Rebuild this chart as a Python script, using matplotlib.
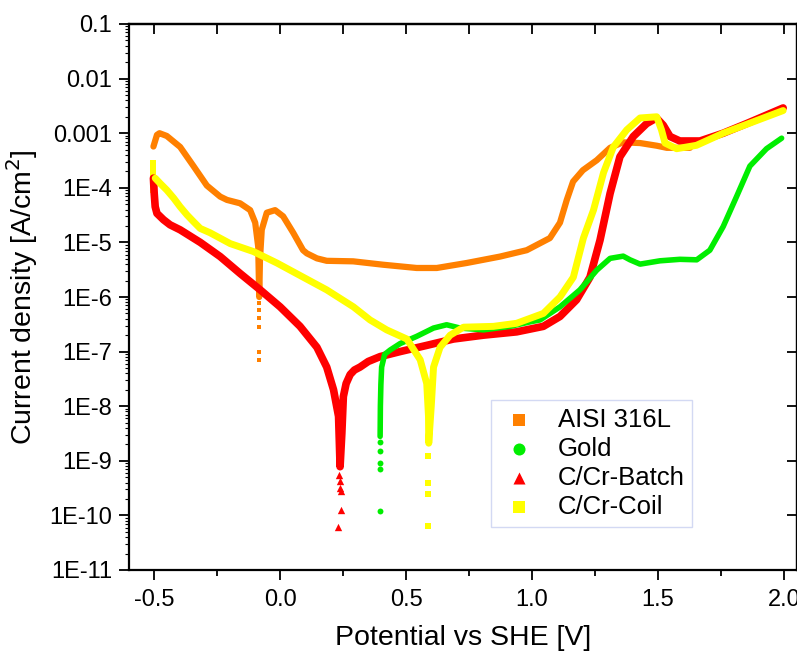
import matplotlib
matplotlib.use("Agg")
import matplotlib.pyplot as plt
from matplotlib.ticker import FixedLocator, NullFormatter, LogLocator, MultipleLocator

plt.rcParams['font.family'] = ['Liberation Sans', 'DejaVu Sans']

# AISI 316L (orange)
ss_v = [-0.503, -0.489, -0.479, -0.450, -0.397, -0.344, -0.291, -0.238, -0.211, -0.159,
        -0.119, -0.099, -0.087, -0.083, -0.080, -0.073, -0.053, -0.020, 0.012, 0.052,
        0.091, 0.106, 0.146, 0.185, 0.290, 0.409, 0.542, 0.622, 0.741, 0.873,
        0.979, 1.071, 1.111, 1.138, 1.163, 1.202, 1.257, 1.310, 1.361, 1.429,
        1.495, 1.535, 1.627]
ss_j = [5.7e-4, 9.3e-4, 1.0e-3, 8.9e-4, 5.6e-4, 2.5e-4, 1.1e-4, 6.9e-5, 6.0e-5, 5.2e-5,
        3.9e-5, 2.3e-5, 8.3e-6, 1.0e-6, 5.0e-6, 1.7e-5, 3.5e-5, 3.9e-5, 3.0e-5, 1.5e-5,
        7.2e-6, 6.3e-6, 5.1e-6, 4.6e-6, 4.5e-6, 3.9e-6, 3.4e-6, 3.4e-6, 4.2e-6, 5.5e-6,
        7.2e-6, 1.2e-5, 2.3e-5, 6.0e-5, 1.3e-4, 2.1e-4, 3.2e-4, 5.4e-4, 6.8e-4, 6.6e-4,
        5.9e-4, 5.4e-4, 5.4e-4]
ss_tail_v = [-0.083, -0.083, -0.083, -0.083, -0.083, -0.083]
ss_tail_j = [7.8e-7, 5.8e-7, 4.1e-7, 2.8e-7, 1.0e-7, 7.1e-8]

# Gold (green)
au_v = [0.397, 0.398, 0.400, 0.403, 0.415, 0.437, 0.476, 0.542, 0.609, 0.661,
        0.714, 0.807, 0.913, 0.992, 1.032, 1.111, 1.190, 1.257, 1.310, 1.362,
        1.389, 1.429, 1.508, 1.587, 1.654, 1.706, 1.759, 1.812, 1.865, 1.931, 1.991]
au_j = [2.8e-9, 1.0e-8, 2.5e-8, 5.2e-8, 8.9e-8, 1.07e-7, 1.4e-7, 1.9e-7, 2.7e-7, 3.1e-7,
        2.7e-7, 2.5e-7, 2.9e-7, 3.5e-7, 3.8e-7, 6.6e-7, 1.35e-6, 3.1e-6, 5.1e-6, 5.6e-6,
        4.8e-6, 4.0e-6, 4.6e-6, 4.9e-6, 4.8e-6, 7.2e-6, 1.95e-5, 6.9e-5, 2.5e-4, 5.2e-4, 8.1e-4]
au_tail_v = [0.397, 0.397, 0.397, 0.397, 0.397]
au_tail_j = [2.2e-9, 1.5e-9, 9.0e-10, 7.2e-10, 1.2e-10]

# C/Cr-Batch (red)
cb_v = [-0.503, -0.500, -0.496, -0.489, -0.463, -0.437, -0.397, -0.317, -0.238, -0.159,
        -0.079, 0.0, 0.079, 0.146, 0.185, 0.212, 0.232, 0.238, 0.245, 0.251,
        0.262, 0.278, 0.295, 0.317, 0.350, 0.397, 0.476, 0.582, 0.688, 0.807,
        0.939, 1.045, 1.111, 1.177, 1.230, 1.270, 1.310, 1.349, 1.402, 1.455,
        1.494, 1.521, 1.548, 1.587, 1.667, 1.759, 1.852, 1.997]
cb_j = [1.5e-4, 8.0e-5, 4.5e-5, 3.4e-5, 2.6e-5, 2.1e-5, 1.7e-5, 1.0e-5, 5.5e-6, 2.7e-6,
        1.35e-6, 6.6e-7, 2.9e-7, 1.2e-7, 5.2e-8, 2.0e-8, 6.5e-9, 7.8e-10, 3.2e-9, 1.5e-8,
        2.6e-8, 3.8e-8, 4.6e-8, 5.2e-8, 6.6e-8, 8.1e-8, 1.0e-7, 1.3e-7, 1.7e-7, 2.0e-7,
        2.3e-7, 2.9e-7, 4.4e-7, 8.9e-7, 2.3e-6, 1.1e-5, 7.9e-5, 3.7e-4, 8.7e-4, 1.5e-3,
        1.9e-3, 1.4e-3, 8.7e-4, 7.2e-4, 7.2e-4, 1.0e-3, 1.5e-3, 2.9e-3]
cb_tail_v = [0.233, 0.236, 0.236, 0.240, 0.243, 0.229]
cb_tail_j = [5.5e-10, 4.2e-10, 3.2e-10, 2.8e-10, 1.26e-10, 6.2e-11]

# C/Cr-Coil (yellow)
cc_v = [-0.496, -0.476, -0.450, -0.423, -0.397, -0.370, -0.344, -0.317, -0.278, -0.198,
        -0.106, -0.013, 0.092, 0.185, 0.291, 0.357, 0.423, 0.503, 0.556, 0.582,
        0.589, 0.590, 0.600, 0.609, 0.635, 0.675, 0.728, 0.847, 0.939, 1.045,
        1.111, 1.164, 1.204, 1.244, 1.284, 1.323, 1.376, 1.429, 1.495, 1.514,
        1.528, 1.574, 1.653, 1.759, 1.891, 1.997]
cc_j = [1.5e-4, 1.2e-4, 9.1e-5, 6.5e-5, 4.5e-5, 3.2e-5, 2.4e-5, 1.8e-5, 1.5e-5, 9.5e-6,
        6.8e-6, 4.2e-6, 2.3e-6, 1.35e-6, 6.6e-7, 3.8e-7, 2.5e-7, 1.7e-7, 7.1e-8, 2.6e-8,
        6.5e-9, 2.1e-9, 1.0e-8, 5.2e-8, 1.2e-7, 2.0e-7, 2.8e-7, 2.9e-7, 3.3e-7, 5.0e-7,
        1.0e-6, 2.3e-6, 1.2e-5, 3.9e-5, 1.9e-4, 5.6e-4, 1.15e-3, 1.9e-3, 2.0e-3, 1.15e-3,
        6.6e-4, 5.2e-4, 6.0e-4, 1.0e-3, 1.7e-3, 2.6e-3]
cc_tail_v = [-0.503, -0.503, -0.503, -0.503, -0.503, 0.589, 0.589, 0.589, 0.589]
cc_tail_j = [2.8e-4, 2.2e-4, 1.8e-4, 1.0e-4, 9.0e-5, 1.2e-9, 3.9e-10, 2.5e-10, 6.3e-11]

decades = [1e-11, 1e-10, 1e-9, 1e-8, 1e-7, 1e-6, 1e-5, 1e-4, 1e-3, 1e-2, 1e-1]
decade_labels = ['1E-11', '1E-10', '1E-9', '1E-8', '1E-7', '1E-6', '1E-5', '1E-4',
                 '0.001', '0.01', '0.1']

c_ss = '#FF8000'
c_au = '#00EE00'
c_cb = '#FF0000'
c_cc = '#FFFF00'

fig = plt.figure(figsize=(7.97, 6.54), dpi=100)
ax = fig.add_axes([129 / 797, 1 - 570 / 654, 668 / 797, 546 / 654])

ax.plot(ss_v, ss_j, '-', color=c_ss, lw=4.5, solid_capstyle='round', solid_joinstyle='round')
ax.scatter(ss_tail_v, ss_tail_j, marker='s', s=10, color=c_ss, lw=0, label='AISI 316L')
ax.plot(cb_v, cb_j, '-', color=c_cb, lw=5.5, solid_capstyle='round', solid_joinstyle='round')
ax.scatter(cb_tail_v, cb_tail_j, marker='^', s=28, color=c_cb, lw=0, label='C/Cr-Batch')
ax.plot(au_v, au_j, '-', color=c_au, lw=4.0, solid_capstyle='round', solid_joinstyle='round')
ax.scatter(au_tail_v, au_tail_j, marker='o', s=18, color=c_au, lw=0, label='Gold')
ax.plot(cc_v, cc_j, '-', color=c_cc, lw=5.0, solid_capstyle='round', solid_joinstyle='round')
ax.scatter(cc_tail_v, cc_tail_j, marker='s', s=14, color=c_cc, lw=0, label='C/Cr-Coil')

ax.set_yscale('log')
ax.set_xlim(-0.6, 2.052)
ax.set_ylim(1e-11, 0.1)

ax.yaxis.set_major_locator(FixedLocator(decades))
ax.set_yticklabels(decade_labels)
ax.yaxis.set_minor_locator(LogLocator(base=10, subs=range(2, 10), numticks=20))
ax.yaxis.set_minor_formatter(NullFormatter())
ax.xaxis.set_minor_locator(MultipleLocator(0.25))
ax.set_xticks([-0.5, 0.0, 0.5, 1.0, 1.5, 2.0])
ax.set_xticklabels(['-0.5', '0.0', '0.5', '1.0', '1.5', '2.0'])

ax.tick_params(axis='both', which='major', direction='out', length=7, width=1.3,
               labelsize=17, colors='black')
ax.tick_params(axis='x', which='major', pad=7)
ax.tick_params(axis='y', which='major', pad=5)
ax.tick_params(axis='x', which='minor', direction='out', length=4, width=1.3)
ax.tick_params(axis='y', which='minor', direction='out', length=3, width=0.8)

top = ax.secondary_xaxis('top')
top.set_xticks([-0.5, -0.25, 0.0, 0.25, 0.5, 0.75, 1.0, 1.25, 1.5, 1.75, 2.0])
top.tick_params(direction='in', length=7, width=1.3, labeltop=False)
top.set_xticklabels([])
right = ax.secondary_yaxis('right')
right.set_yticks(decades)
right.tick_params(direction='in', length=7, width=1.3, labelright=False)
right.set_yticklabels([])
right.yaxis.set_minor_locator(FixedLocator([]))

for s in ax.spines.values():
    s.set_linewidth(1.6)
top.spines['top'].set_linewidth(1.6)
right.spines['right'].set_linewidth(1.6)

ax.set_xlabel('Potential vs SHE [V]', fontsize=20.5, labelpad=10)
ax.set_ylabel('Current density [A/cm$^2$]', fontsize=20.5, labelpad=7)

handles, labels = ax.get_legend_handles_labels()
order = ['AISI 316L', 'Gold', 'C/Cr-Batch', 'C/Cr-Coil']
hmap = dict(zip(labels, handles))
leg = ax.legend([hmap[k] for k in order], order, loc='upper left',
                bbox_to_anchor=((491 - 129) / 668, (570 - 400) / 546),
                fontsize=18.5, handlelength=1.6, handletextpad=0.7,
                labelspacing=0.2, borderpad=0.3, borderaxespad=0,
                frameon=True, fancybox=False)
leg.get_frame().set_edgecolor('#C8D0F0')
leg.get_frame().set_linewidth(1.0)
for h in leg.legend_handles:
    h.set_sizes([75])

fig.savefig('out.png', dpi=100)
